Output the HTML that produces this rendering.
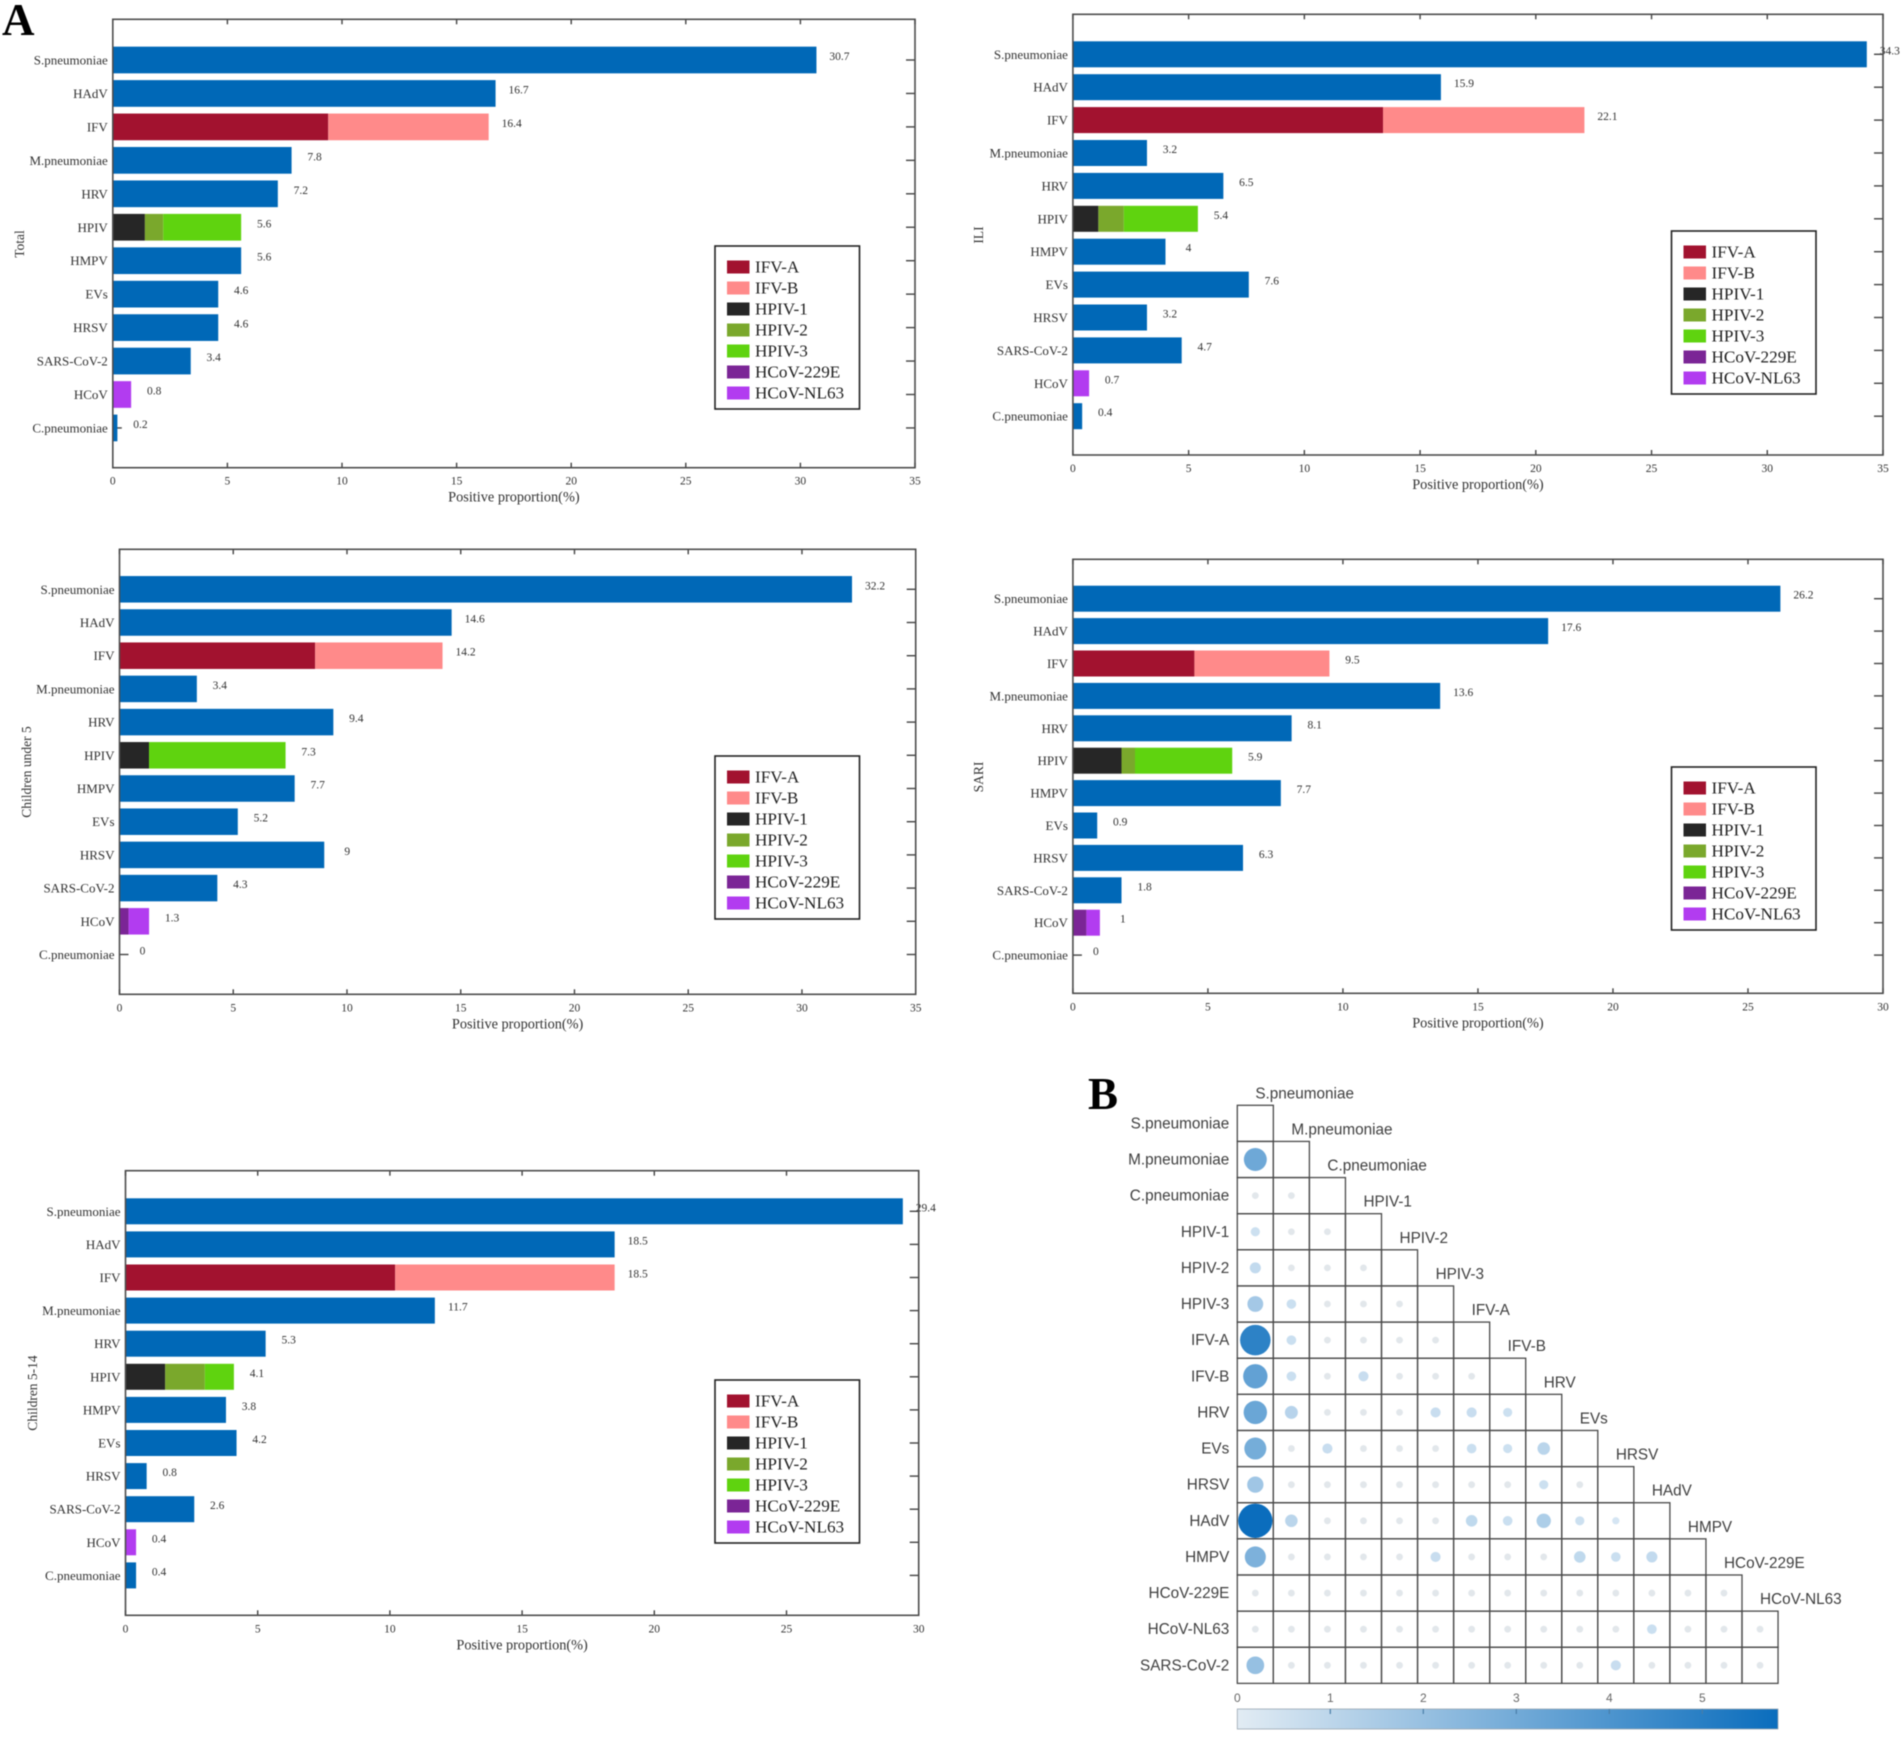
<!DOCTYPE html>
<html lang="en">
<head>
<meta charset="utf-8">
<title>Pathogen positive proportions and co-detection matrix</title>
<style>
  html, body { margin: 0; padding: 0; background: #fff; }
  #figure { display: block; width: 1902px; height: 1741px; filter: blur(0.65px); }
  .serif { font-family: "Liberation Serif", serif; }
  .sans { font-family: "Liberation Sans", sans-serif; }
</style>
</head>
<body>
<svg id="figure" xmlns="http://www.w3.org/2000/svg" width="1902" height="1741" viewBox="0 0 1902 1741">
  <rect x="0" y="0" width="1902" height="1741" fill="#ffffff"></rect>
  <text class="serif" x="2" y="35" font-size="45" font-weight="bold" fill="#000">A</text>
  <text class="serif" x="1088" y="1109" font-size="45" font-weight="bold" fill="#000">B</text>
  <defs>
    <linearGradient id="colorbar-gradient" x1="0" y1="0" x2="1" y2="0">
      <stop offset="0" stop-color="#e2ecf4"></stop>
      <stop offset="1" stop-color="#0a6dbd"></stop>
    </linearGradient>
  </defs>
</svg>
<script>
// ---------- bar chart data ----------
const barCategories = ['S.pneumoniae','HAdV','IFV','M.pneumoniae','HRV','HPIV','HMPV','EVs','HRSV','SARS-CoV-2','HCoV','C.pneumoniae'];
const legendSeries = ['IFV-A','IFV-B','HPIV-1','HPIV-2','HPIV-3','HCoV-229E','HCoV-NL63'];
const ticks35 = [0,5,10,15,20,25,30,35];
const ticks30 = [0,5,10,15,20,25,30];

// Non-stacked bars; null marks a category drawn from the stacked arrays.
const totalMain = [30.7,16.7,null,7.8,7.2,null,5.6,4.6,4.6,3.4,null,0.2];
const totalIfv = [9.4,7.0];
const totalHpiv = [1.4,0.8,3.4];
const totalHcov = [0,0.8];

const iliMain = [34.3,15.9,null,3.2,6.5,null,4,7.6,3.2,4.7,null,0.4];
const iliIfv = [13.4,8.7];
const iliHpiv = [1.1,1.1,3.2];
const iliHcov = [0,0.7];

const under5Main = [32.2,14.6,null,3.4,9.4,null,7.7,5.2,9,4.3,null,0];
const under5Ifv = [8.6,5.6];
const under5Hpiv = [1.3,0,6.0];
const under5Hcov = [0.4,0.9];

const sariMain = [26.2,17.6,null,13.6,8.1,null,7.7,0.9,6.3,1.8,null,0];
const sariIfv = [4.5,5.0];
const sariHpiv = [1.8,0.5,3.6];
const sariHcov = [0.5,0.5];

const age5to14Main = [29.4,18.5,null,11.7,5.3,null,3.8,4.2,0.8,2.6,null,0.4];
const age5to14Ifv = [10.2,8.3];
const age5to14Hpiv = [1.5,1.5,1.1];
const age5to14Hcov = [0,0.4];

// ---------- matrix data ----------
const matrixLabels = ['S.pneumoniae','M.pneumoniae','C.pneumoniae','HPIV-1','HPIV-2','HPIV-3','IFV-A','IFV-B','HRV','EVs','HRSV','HAdV','HMPV','HCoV-229E','HCoV-NL63','SARS-CoV-2'];
const colorbarTicks = [0,1,2,3,4,5];
const matrixValues = [
  [],
  [3.4],
  [0,0],
  [0.5,0,0],
  [0.9,0,0,0],
  [1.9,0.6,0,0,0],
  [5.0,0.6,0,0,0,0],
  [3.7,0.6,0,0.7,0,0,0],
  [3.5,1.3,0,0,0,0.7,0.7,0.5],
  [3.2,0,0.7,0,0,0,0.6,0.5,1.2],
  [2.0,0,0,0,0,0,0,0,0.5,0],
  [5.8,1.2,0,0,0,0,1.0,0.6,1.6,0.5,0.1],
  [3.0,0,0,0,0,0.7,0,0,0,1.0,0.6,0.9],
  [0,0,0,0,0,0,0,0,0,0,0,0,0,0],
  [0,0,0,0,0,0,0,0,0,0,0,0.6,0,0,0],
  [2.3,0,0,0,0,0,0,0,0,0,0.7,0,0,0,0]
];

// ---------- helpers ----------
const svg = document.getElementById('figure');
const seriesColor = {
  main: '#0068b7',
  'IFV-A': '#a2122f',
  'IFV-B': '#ff8a8a',
  'HPIV-1': '#262626',
  'HPIV-2': '#7aa82c',
  'HPIV-3': '#5fd30f',
  'HCoV-229E': '#7b2596',
  'HCoV-NL63': '#b23cf0'
};

function mk(parent, tag, attrs, content) {
  const node = document.createElementNS('http://www.w3.org/2000/svg', tag);
  for (const k in attrs) node.setAttribute(k, attrs[k]);
  if (content !== undefined) node.textContent = content;
  parent.appendChild(node);
  return node;
}
function fmt(v) { return String(Math.round(v * 10) / 10); }
function sum(a) { return a.reduce((s, v) => s + v, 0); }

// ---------- bar panel ----------
function drawBarPanel(p) {
  const X = v => p.left + (v / p.xMax) * (p.right - p.left);
  const Y = i => p.firstRow + i * p.rowStep;

  const g = mk(svg, 'g', {});
  
  

  // y ticks (drawn under bars)
  barCategories.forEach((c, i) => {
    const tl = mk(g, 'line', {x1: p.left, x2: p.left + 9, y1: Y(i), y2: Y(i), stroke: '#444', 'stroke-width': 1.4});
    
    
    const tr = mk(g, 'line', {x1: p.right - 9, x2: p.right, y1: Y(i), y2: Y(i), stroke: '#444', 'stroke-width': 1.4});
    
    
  });

  // bars
  const stacks = {
    'IFV': {values: p.ifv, names: ['IFV-A','IFV-B']},
    'HPIV': {values: p.hpiv, names: ['HPIV-1','HPIV-2','HPIV-3']},
    'HCoV': {values: p.hcov, names: ['HCoV-229E','HCoV-NL63']}
  };
  barCategories.forEach((c, i) => {
    const stack = stacks[c];
    let total;
    if (stack) {
      let acc = 0;
      stack.values.forEach((v, k) => {
        if (v > 0) {
          const seg = mk(g, 'rect', {x: X(acc), y: Y(i) - p.barH / 2, width: X(acc + v) - X(acc), height: p.barH, fill: seriesColor[stack.names[k]]});
          
          
        }
        acc += v;
      });
      total = sum(stack.values);
    } else {
      total = p.main[i];
      if (total > 0) {
        const bar = mk(g, 'rect', {x: X(0), y: Y(i) - p.barH / 2, width: X(total) - X(0), height: p.barH, fill: seriesColor.main});
        
        
      }
    }
    const val = mk(g, 'text', {class: 'serif', x: X(total) + 23, y: Y(i), 'font-size': 11.5, fill: '#333', 'text-anchor': 'middle'}, fmt(total));
    
    
    const lab = mk(g, 'text', {class: 'serif', x: p.left - 5, y: Y(i) + 4.5, 'font-size': 13, fill: '#333', 'text-anchor': 'end'}, c);
    
    
  });

  // x ticks and labels
  p.xTicks.forEach(t => {
    const top = mk(g, 'line', {x1: X(t), x2: X(t), y1: p.top, y2: p.top + 5, stroke: '#444', 'stroke-width': 1.4});
    
    
    const bot = mk(g, 'line', {x1: X(t), x2: X(t), y1: p.bottom - 5, y2: p.bottom, stroke: '#444', 'stroke-width': 1.4});
    
    
    const lab = mk(g, 'text', {class: 'serif', x: X(t), y: p.bottom + 17, 'font-size': 11.5, fill: '#333', 'text-anchor': 'middle'}, String(t));
    
    
  });

  // frame
  const frame = mk(g, 'rect', {x: p.left, y: p.top, width: p.right - p.left, height: p.bottom - p.top, fill: 'none', stroke: '#4d4d4d', 'stroke-width': 1.6});
  
  

  // titles
  const xt = mk(g, 'text', {class: 'serif', x: (p.left + p.right) / 2, y: p.bottom + 34, 'font-size': 14.3, fill: '#333', 'text-anchor': 'middle'}, 'Positive proportion(%)');
  
  
  const yt = mk(g, 'text', {class: 'serif', x: 0, y: 0, 'font-size': 13.5, fill: '#333', 'text-anchor': 'middle', transform: 'translate(' + p.yTitleX + ',' + p.yTitleY + ') rotate(-90)'}, p.yTitle);
  
  

  // legend
  const lg = mk(g, 'g', {});
  
  
  const box = mk(lg, 'rect', {x: p.legendX, y: p.legendY, width: 144.5, height: 163, fill: '#fff', stroke: '#222', 'stroke-width': 1.6});
  
  
  legendSeries.forEach((s, k) => {
    const cy = p.legendY + 21 + k * 21;
    const sw = mk(lg, 'rect', {x: p.legendX + 12, y: cy - 6.5, width: 22.5, height: 13, fill: seriesColor[s]});
    
    
    const tx = mk(lg, 'text', {class: 'serif', x: p.legendX + 40, y: cy + 5.5, 'font-size': 17.2, fill: '#222'}, s);
    
    
  });
}

drawBarPanel({key: 'total', left: 112.8, right: 915, top: 19.3, bottom: 467.7, firstRow: 60, rowStep: 33.45, barH: 26.7, xMax: 35, xTicks: ticks35,
  main: totalMain, ifv: totalIfv, hpiv: totalHpiv, hcov: totalHcov, yTitle: 'Total', yTitleX: 24, yTitleY: 244, legendX: 715, legendY: 246});
drawBarPanel({key: 'ili', left: 1072.9, right: 1883, top: 14.3, bottom: 455, firstRow: 54.3, rowStep: 32.9, barH: 26, xMax: 35, xTicks: ticks35,
  main: iliMain, ifv: iliIfv, hpiv: iliHpiv, hcov: iliHcov, yTitle: 'ILI', yTitleX: 983, yTitleY: 235, legendX: 1671.5, legendY: 231});
drawBarPanel({key: 'children-under-5', left: 119.5, right: 915.7, top: 549.3, bottom: 994.3, firstRow: 589.3, rowStep: 33.2, barH: 26.5, xMax: 35, xTicks: ticks35,
  main: under5Main, ifv: under5Ifv, hpiv: under5Hpiv, hcov: under5Hcov, yTitle: 'Children under 5', yTitleX: 31, yTitleY: 772, legendX: 715, legendY: 756});
drawBarPanel({key: 'sari', left: 1072.9, right: 1883, top: 559.3, bottom: 993.3, firstRow: 598.7, rowStep: 32.4, barH: 26, xMax: 30, xTicks: ticks30,
  main: sariMain, ifv: sariIfv, hpiv: sariHpiv, hcov: sariHcov, yTitle: 'SARI', yTitleX: 983, yTitleY: 777, legendX: 1671.5, legendY: 767});
drawBarPanel({key: 'children-5-14', left: 125.5, right: 918.7, top: 1170.7, bottom: 1615.3, firstRow: 1211.3, rowStep: 33.1, barH: 26, xMax: 30, xTicks: ticks30,
  main: age5to14Main, ifv: age5to14Ifv, hpiv: age5to14Hpiv, hcov: age5to14Hcov, yTitle: 'Children 5-14', yTitleX: 37, yTitleY: 1393, legendX: 715, legendY: 1380});

// ---------- correlation matrix ----------
(function drawMatrix() {
  const left = 1237.3, top = 1105.3, cw = 36.05, ch = 36.13;
  const barLeft = 1237.3, barUnit = 93, barTop = 1709, barH = 20, barRight = 1778;
  const vMax = (barRight - barLeft) / barUnit;
  const radius = v => 3.4 + 13.8 * v / vMax;
  const color = v => {
    const f = Math.min(1, Math.pow(v / vMax, 1.25));
    const lo = [226, 231, 235], hi = [10, 109, 189];
    const mid = v > 0 ? [214, 230, 243] : lo;
    return 'rgb(' + mid.map((c, i) => Math.round(c + (hi[i] - c) * f)).join(',') + ')';
  };

  const g = mk(svg, 'g', {});
  
  

  matrixLabels.forEach((label, r) => {
    const cols = Math.min(r + 1, matrixLabels.length - 1);
    for (let c = 0; c < cols; c++) {
      const cell = mk(g, 'rect', {x: left + c * cw, y: top + r * ch, width: cw, height: ch, fill: 'none', stroke: '#4a4a4a', 'stroke-width': 1.3});
      
      
    }
    const rl = mk(g, 'text', {class: 'sans', x: left - 8, y: top + (r + 0.5) * ch + 5, 'font-size': 15.3, fill: '#3f3f3f', 'text-anchor': 'end'}, label);
    
    
    const clX = left + Math.min(r, matrixLabels.length - 2) * cw + cw * 0.5;
    if (r < matrixLabels.length - 1) {
      const cl = mk(g, 'text', {class: 'sans', x: clX, y: top + r * ch - 7, 'font-size': 15.3, fill: '#3f3f3f'}, label);
      
      
    }
  });

  matrixValues.forEach((row, r) => {
    row.forEach((v, c) => {
      const dot = mk(g, 'circle', {cx: left + (c + 0.5) * cw, cy: top + (r + 0.5) * ch, r: radius(v), fill: color(v)});
      
      
    });
  });

  const cb = mk(g, 'rect', {x: barLeft, y: barTop, width: barRight - barLeft, height: barH, fill: 'url(#colorbar-gradient)', stroke: '#9aa7b2', 'stroke-width': 0.8});
  
  
  colorbarTicks.forEach(t => {
    const x = barLeft + t * barUnit;
    if (t > 0) {
      const tk = mk(g, 'line', {x1: x, x2: x, y1: barTop, y2: barTop + 5, stroke: '#4a7ea8', 'stroke-width': 1.2});
      
      
    }
    const lb = mk(g, 'text', {class: 'sans', x: x, y: 1702, 'font-size': 12, fill: '#666', 'text-anchor': 'middle'}, String(t));
    
    
  });
})();
</script>
</body>
</html>
